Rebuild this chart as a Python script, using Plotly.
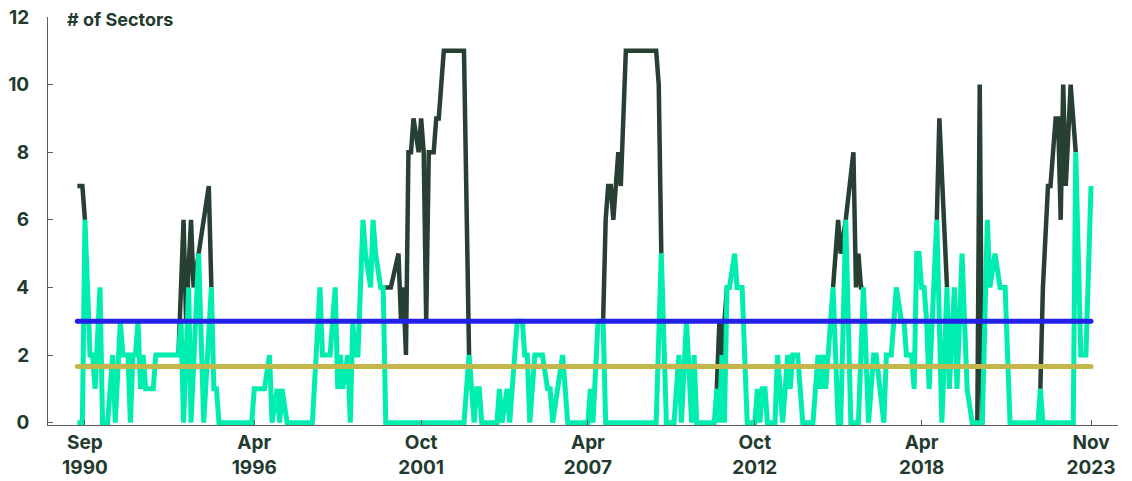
import plotly.graph_objects as go

# ---- data (monthly vertices) ----
mint_dates = [
    "1990-06", "1990-08", "1990-09", "1990-11", "1990-12",
    "1991-01", "1991-03", "1991-04", "1991-06", "1991-08", "1991-09", "1991-11", "1991-12",
    "1992-02", "1992-03", "1992-04", "1992-05", "1992-06", "1992-07", "1992-08", "1992-09", "1992-12",
    "1993-01", "1993-10", "1993-11", "1993-12",
    "1994-02", "1994-03", "1994-06", "1994-08", "1994-11", "1994-12",
    "1995-01", "1995-02",
    "1996-03", "1996-04", "1996-08", "1996-10", "1996-11",
    "1997-01", "1997-02", "1997-03", "1997-05",
    "1998-03", "1998-06", "1998-07", "1998-10", "1998-12",
    "1999-01", "1999-02", "1999-03", "1999-05", "1999-06", "1999-07", "1999-08", "1999-09", "1999-11", "1999-12",
    "2000-02", "2000-03", "2000-04", "2000-06", "2000-07", "2000-08",
    "2003-03", "2003-05", "2003-06", "2003-07", "2003-08", "2003-09", "2003-10",
    "2004-04", "2004-05", "2004-06", "2004-08", "2004-09", "2004-12",
    "2005-02", "2005-03", "2005-04", "2005-05", "2005-07", "2005-10", "2005-12",
    "2006-01", "2006-02", "2006-04", "2006-06", "2006-08",
    "2007-04", "2007-05", "2007-06", "2007-08", "2007-10", "2007-11",
    "2009-07", "2009-09", "2009-11",
    "2010-02", "2010-04", "2010-05", "2010-07", "2010-09", "2010-10", "2010-11",
    "2011-06", "2011-07", "2011-08", "2011-09", "2011-10", "2011-11", "2011-12",
    "2012-02", "2012-03", "2012-05", "2012-07", "2012-10", "2012-11", "2012-12",
    "2013-01", "2013-02", "2013-03", "2013-06", "2013-07", "2013-09", "2013-11", "2013-12",
    "2014-01", "2014-03", "2014-05", "2014-09", "2014-11", "2014-12",
    "2015-01", "2015-02", "2015-03", "2015-05", "2015-07", "2015-08", "2015-10", "2015-12",
    "2016-03", "2016-05", "2016-07", "2016-09", "2016-10",
    "2017-01", "2017-02", "2017-04", "2017-06", "2017-08", "2017-09", "2017-10", "2017-12",
    "2018-01", "2018-02", "2018-03", "2018-04", "2018-05", "2018-06", "2018-07", "2018-10", "2018-12",
    "2019-02", "2019-03", "2019-05", "2019-06", "2019-08", "2019-09", "2019-10", "2019-12",
    "2020-04", "2020-06", "2020-07", "2020-09", "2020-11",
    "2021-01", "2021-03",
    "2022-02", "2022-03", "2022-04",
    "2023-04", "2023-05", "2023-07", "2023-09", "2023-11",
]
mint_values = [
    0, 0, 6, 2, 2,
    1, 4, 0, 0, 2, 0, 3, 2,
    2, 0, 2, 2, 3, 1, 2, 1, 1,
    2, 2, 3, 0,
    4, 0, 5, 0, 4, 1,
    1, 0,
    0, 1, 1, 2, 0,
    1, 0, 1, 0,
    0, 4, 2, 2, 4,
    1, 2, 1, 2, 0, 3, 2, 2, 6, 5,
    4, 6, 5, 4, 4, 0,
    0, 2, 1, 0, 1, 1, 0,
    0, 1, 0, 1, 0, 3,
    3, 2, 2, 0, 2, 2, 1,
    1, 0, 1, 2, 0,
    0, 1, 0, 3, 3, 0,
    0, 5, 0,
    0, 2, 0, 3, 0, 2, 0,
    0, 1, 0, 2, 0, 4, 4,
    5, 4, 4, 0, 0, 1, 0,
    1, 1, 0, 0, 2, 0, 2, 1,
    2, 2, 0, 0, 2, 1,
    2, 1, 2, 4, 0, 0, 6, 0,
    0, 4, 0, 2, 2,
    0, 2, 2, 4, 3, 3, 2, 2,
    1, 5, 5, 4, 4, 3, 1, 6, 0,
    4, 1, 4, 1, 5, 3, 1, 0,
    0, 6, 4, 5, 4,
    4, 0,
    0, 1, 0,
    0, 8, 2, 2, 7,
]

# dark series: only the stretches where it rises above the bright series
# (elsewhere both series coincide); None separates the stretches
dark_dates = [
    "1990-06", "1990-08", "1990-09", None,
    "1993-10", "1993-12", "1994-01", "1994-03", "1994-04", "1994-10", "1994-11", None,
    "2000-07", "2000-10", "2001-01", "2001-02", "2001-03", "2001-04", "2001-05", "2001-06",
    "2001-07", "2001-09", "2001-10", "2001-11", "2001-12", "2002-01", "2002-03", "2002-04",
    "2002-05", "2002-07", "2003-03", "2003-05", None,
    "2007-10", "2007-11", "2007-12", "2008-01", "2008-02", "2008-04", "2008-05", "2008-07",
    "2009-07", "2009-08", "2009-09", None,
    "2011-07", "2011-08", "2011-09", "2011-11", None,
    "2015-05", "2015-07", "2015-08", "2015-10", "2016-01", "2016-02", "2016-03", "2016-04", "2016-05", None,
    "2018-10", "2018-11", "2019-02", None,
    "2020-02", "2020-03", "2020-04", None,
    "2022-03", "2022-04", "2022-06", "2022-07", "2022-09", "2022-10", "2022-11", "2022-12",
    "2023-01", "2023-03", "2023-05",
]
dark_values = [
    7, 7, 6, None,
    2, 6, 3, 6, 4, 7, 4, None,
    4, 4, 5, 3, 4, 2, 8, 8,
    9, 8, 9, 8, 3, 8, 8, 9,
    9, 11, 11, 2, None,
    3, 6, 7, 7, 6, 8, 7, 11,
    11, 10, 5, None,
    1, 3, 2, 4, None,
    4, 6, 5, 6, 8, 4, 5, 4, 4, None,
    6, 9, 4, None,
    0, 10, 0, None,
    1, 4, 7, 7, 9, 9, 6, 10,
    7, 10, 8,
]

blue_level = 3
olive_level = 1.66

tick_dates = ["1990-09-01", "1996-04-01", "2001-10-01", "2007-04-01",
              "2012-10-01", "2018-04-01", "2023-11-01"]
tick_labels = ["Sep<br>1990", "Apr<br>1996", "Oct<br>2001", "Apr<br>2007",
               "Oct<br>2012", "Apr<br>2018", "Nov<br>2023"]
y_ticks = [0, 2, 4, 6, 8, 10, 12]
y_title = "# of Sectors"

assert len(mint_dates) == len(mint_values)
assert len(dark_dates) == len(dark_values)

# ---- styling ----
DARK = "#283f33"
MINT = "#00edb0"
BLUE = "#2320ea"
OLIVE = "#c3b74b"
TEXT = "#233a2e"
AXIS = "#5c5c5c"
FONT = "Inter"

fig = go.Figure()
fig.add_trace(go.Scatter(x=dark_dates, y=dark_values, mode="lines",
                         line=dict(color=DARK, width=4.5), connectgaps=False,
                         hoverinfo="skip"))
fig.add_trace(go.Scatter(x=mint_dates, y=mint_values, mode="lines",
                         line=dict(color=MINT, width=5), hoverinfo="skip"))
span = [mint_dates[0], mint_dates[-1]]
fig.add_trace(go.Scatter(x=span, y=[blue_level] * 2, mode="lines+markers",
                         line=dict(color=BLUE, width=5),
                         marker=dict(color=BLUE, size=5, line=dict(width=0)),
                         hoverinfo="skip"))
fig.add_trace(go.Scatter(x=span, y=[olive_level] * 2, mode="lines+markers",
                         line=dict(color=OLIVE, width=5),
                         marker=dict(color=OLIVE, size=5, line=dict(width=0)),
                         hoverinfo="skip"))

tickfont = dict(family=FONT, size=19, color=TEXT, weight=700)

fig.update_layout(
    width=1132, height=481,
    margin=dict(l=48, r=14, t=17, b=56, autoexpand=False),
    plot_bgcolor="white", paper_bgcolor="white",
    showlegend=False,
    xaxis=dict(type="date", range=["1989-06-13", "2024-09-21"],
               tickmode="array", tickvals=tick_dates, ticktext=tick_labels,
               ticks="inside", ticklen=5, tickwidth=1, tickcolor=AXIS,
               showline=True, linecolor=AXIS, linewidth=1,
               showgrid=False, zeroline=False, tickfont=tickfont,
               automargin=False, ticklabelstandoff=0,
               ticklabeloverflow="allow"),
    yaxis=dict(range=[-0.07, 12], tickmode="array", tickvals=y_ticks,
               ticks="inside", ticklen=5, tickwidth=1, tickcolor=AXIS,
               showline=True, linecolor=AXIS, linewidth=1,
               showgrid=False, zeroline=False, tickfont=tickfont,
               automargin=False, ticklabelstandoff=14,
               ticklabeloverflow="allow"),
    annotations=[dict(text=y_title, xref="paper", yref="paper",
                      x=(65 - 48) / 1070, y=0.994, xanchor="left", yanchor="middle",
                      showarrow=False,
                      font=dict(family=FONT, size=18, color=TEXT, weight=700))],
)

# remove the browser's default 8px body margin so the figure fills the window
fig.write_html("out.html", config={"displayModeBar": False},
               post_script="document.body.style.margin='0px';")
